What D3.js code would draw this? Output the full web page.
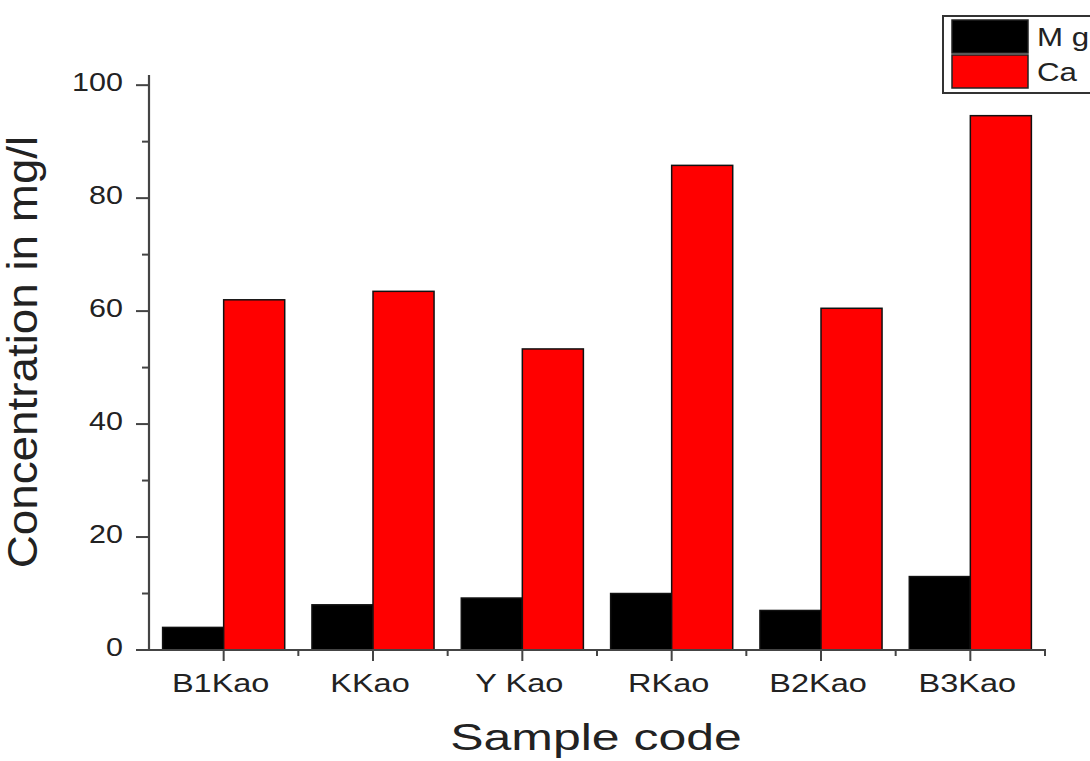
<!DOCTYPE html>
<html><head><meta charset="utf-8">
<script src="https://cdn.jsdelivr.net/npm/d3@7"></script>
<style>body{margin:0;background:#fff}svg{display:block}text{font-family:"Liberation Sans",Arial,sans-serif;fill:#222}</style>
</head><body>
<svg id="c" width="1090" height="761"></svg>
<script>
const categories = ["B1Kao","KKao","Y Kao","RKao","B2Kao","B3Kao"];
const seriesNames = ["Mg","Ca"];
const legendLabels = ["M g","Ca"];
const mgValues = [4, 8, 9.2, 10, 7, 13];
const caValues = [62, 63.5, 53.3, 85.8, 60.5, 94.6];
const yTicks = [0,20,40,60,80,100];
const yMinorTicks = [10,30,50,70,90];
const colors = ["#000000","#ff0000"];

const svg = d3.select("#c");
const x = d3.scaleBand().domain(categories).range([149,1045]).padding(0);
const xs = d3.scaleBand().domain(seriesNames).range([0,x.bandwidth()]).paddingInner(0).paddingOuter(0.223);
const y = d3.scaleLinear().domain([0,101.8]).range([650,75]);
const col = d3.scaleOrdinal().domain(seriesNames).range(colors);

const data = categories.map((c,i)=>({cat:c, vals:[{s:"Mg",v:mgValues[i]},{s:"Ca",v:caValues[i]}]}));

// bars
const g = svg.append("g");
g.selectAll("g.grp").data(data).join("g").attr("class","grp")
 .attr("transform",d=>`translate(${x(d.cat)},0)`)
 .selectAll("rect").data(d=>d.vals).join("rect")
 .attr("x",d=>xs(d.s)).attr("width",xs.bandwidth())
 .attr("y",d=>y(d.v)).attr("height",d=>y(0)-y(d.v))
 .attr("fill",d=>col(d.s)).attr("stroke","#111").attr("stroke-width",1.5);

const axisColor = "#444";
// y axis
const ya = svg.append("g").attr("transform","translate(149,0)");
ya.append("line").attr("x1",0).attr("x2",0).attr("y1",y(0)+1).attr("y2",y(101.8)).attr("stroke",axisColor).attr("stroke-width",2.2);
ya.selectAll("line.maj").data(yTicks).join("line").attr("class","maj")
 .attr("x1",-13).attr("x2",0).attr("y1",d=>y(d)).attr("y2",d=>y(d)).attr("stroke",axisColor).attr("stroke-width",2);
ya.selectAll("line.min").data(yMinorTicks).join("line").attr("class","min")
 .attr("x1",-7).attr("x2",0).attr("y1",d=>y(d)).attr("y2",d=>y(d)).attr("stroke",axisColor).attr("stroke-width",2);
ya.selectAll("text").data(yTicks).join("text")
 .attr("transform",d=>`translate(-26,${y(d)-3}) scale(1.22,1)`)
 .attr("text-anchor","end").attr("dy","0.35em").attr("font-size",25).text(d=>d);

// x axis
const xa = svg.append("g");
xa.append("line").attr("x1",144).attr("x2",1046).attr("y1",y(0)).attr("y2",y(0)).attr("stroke",axisColor).attr("stroke-width",2.2);
xa.selectAll("line.maj").data(categories).join("line").attr("class","maj")
 .attr("x1",d=>x(d)+x.bandwidth()/2).attr("x2",d=>x(d)+x.bandwidth()/2)
 .attr("y1",y(0)).attr("y2",y(0)+11).attr("stroke",axisColor).attr("stroke-width",2);
const bounds = categories.map(d=>x(d)).concat([x(categories[categories.length-1])+x.bandwidth()]);
xa.selectAll("line.min").data(bounds.slice(1)).join("line").attr("class","min")
 .attr("x1",d=>d).attr("x2",d=>d).attr("y1",y(0)).attr("y2",y(0)+6).attr("stroke",axisColor).attr("stroke-width",2);
xa.selectAll("text").data(categories).join("text")
 .attr("transform",d=>`translate(${x(d)+x.bandwidth()/2-3},692) scale(1.3,1)`)
 .attr("text-anchor","middle").attr("font-size",25).text(d=>d);

// titles
svg.append("text").attr("transform","translate(596,750) scale(1.35,1)")
 .attr("text-anchor","middle").attr("font-size",37).text("Sample code");
svg.append("text").attr("transform","translate(37,352) rotate(-90) scale(1.09,1)")
 .attr("text-anchor","middle").attr("font-size",42).text("Concentration in mg/l");

// legend
const lg = svg.append("g");
lg.append("rect").attr("x",943).attr("y",16).attr("width",160).attr("height",77)
 .attr("fill","#fff").attr("stroke","#333").attr("stroke-width",2);
const li = lg.selectAll("g.li").data(seriesNames).join("g").attr("class","li")
 .attr("transform",(d,i)=>`translate(952,${20+i*35})`);
li.append("rect").attr("width",76).attr("height",33).attr("fill",d=>col(d)).attr("stroke","#222").attr("stroke-width",1.5);
li.append("text").attr("transform","translate(85,26) scale(1.25,1)").attr("font-size",25)
 .text((d,i)=>legendLabels[i]);
</script>
</body></html>
